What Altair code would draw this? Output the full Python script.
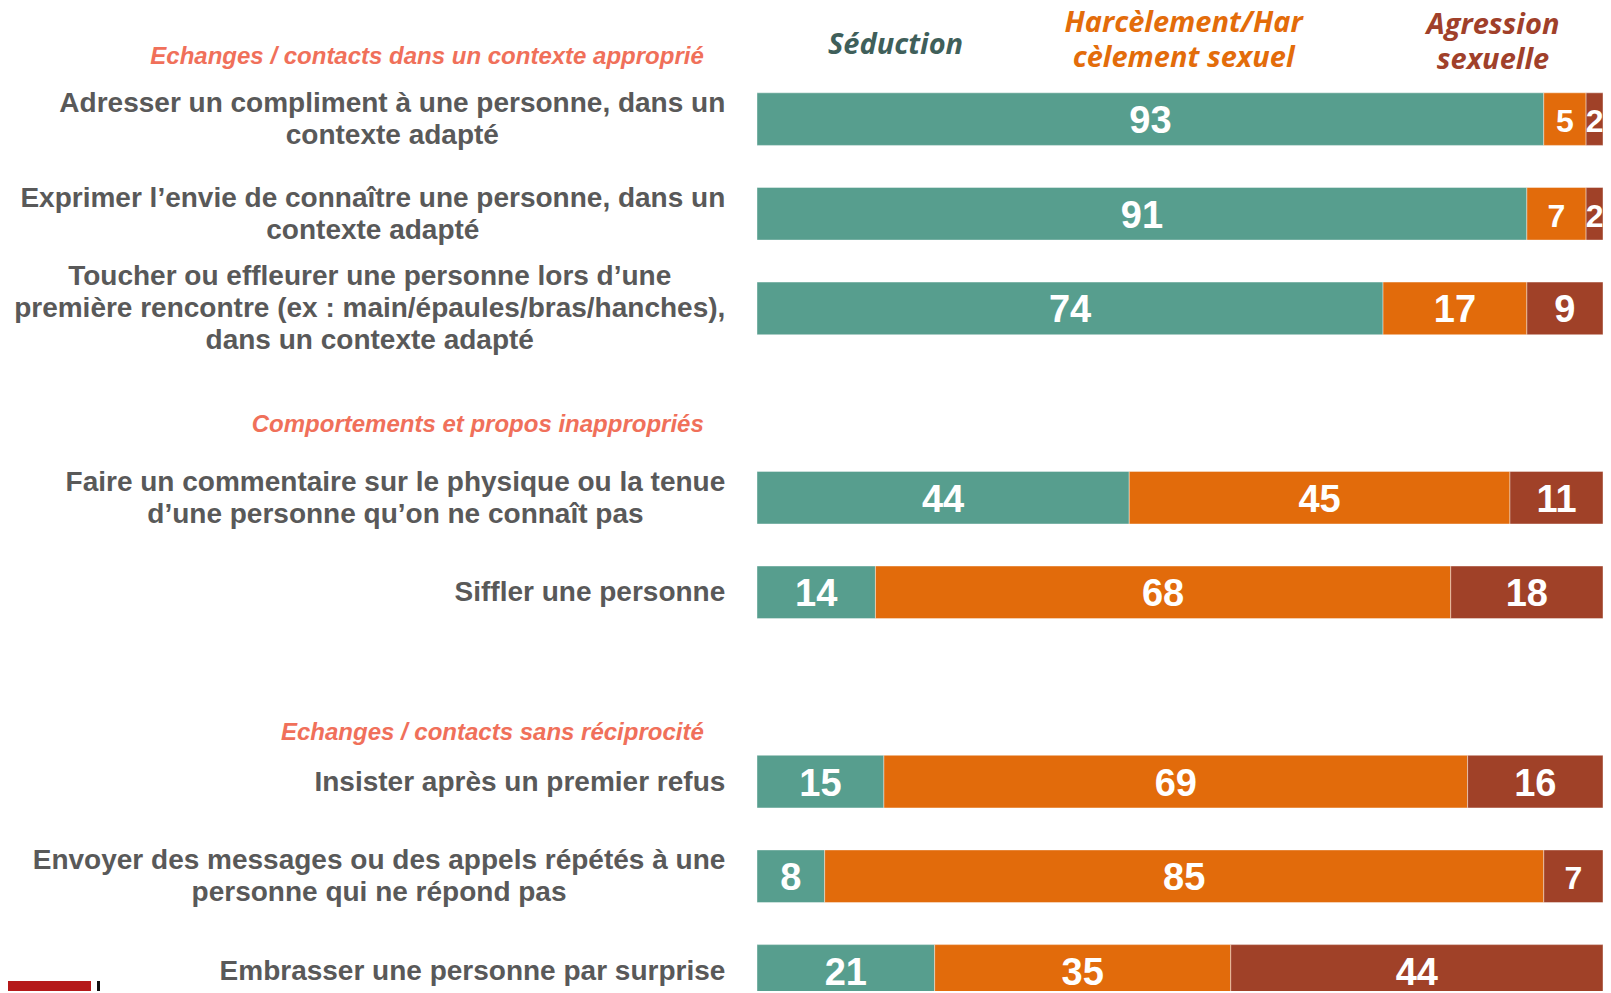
import altair as alt
import pandas as pd

# ---------------- data ----------------
items = [
    "Adresser un compliment à une personne, dans un\ncontexte adapté",
    "Exprimer l’envie de connaître une personne, dans un\ncontexte adapté",
    "Toucher ou effleurer une personne lors d’une\npremière rencontre (ex : main/épaules/bras/hanches),\ndans un contexte adapté",
    "Faire un commentaire sur le physique ou la tenue\nd’une personne qu’on ne connaît pas",
    "Siffler une personne",
    "Insister après un premier refus",
    "Envoyer des messages ou des appels répétés à une\npersonne qui ne répond pas",
    "Embrasser une personne par surprise",
]
groups = [0, 0, 0, 1, 1, 2, 2, 2]
seduction = [93, 91, 74, 44, 14, 15, 8, 21]
harcelement = [5, 7, 17, 45, 68, 69, 85, 35]
agression = [2, 2, 9, 11, 18, 16, 7, 44]
sections = [
    "Echanges / contacts dans un contexte approprié",
    "Comportements et propos inappropriés",
    "Echanges / contacts sans réciprocité",
]
categories = ["Séduction", "Harcèlement/Harcèlement sexuel", "Agression sexuelle"]
column_titles = ["Séduction", "Harcèlement/Har\ncèlement sexuel", "Agression\nsexuelle"]
colors = ["#579e8e", "#e26b0b", "#a04128"]
title_colors = ["#3f5f5a", "#e36c0a", "#a0402a"]

# ---------------- layout ----------------
# target positions are given in picture pixels; SY compensates the vertical
# squeeze of the capture, ORIGIN_* is where the plot origin lands on the page
SY = 0.989
ORIGIN_X, ORIGIN_Y = 8.0, 13.9
W, H = 1595, 983
BAR_LEFT_PAGE, PX_PER_UNIT = 757.0, 8.46
BAR1_CENTER_PAGE, SLOT_PAGE = 118.7, 94.7
BAR_H = 52 / SY
LABEL_RIGHT_PAGE = 725.3
LABEL_FS = 28
LABEL_LH = 32
SECTION_RIGHT_PAGE = 703.8
SECTION_Y_PAGE = [56.5, 425.0, 732.5]
COLTITLE_X_PAGE = [895.5, 1183.6, 1493.0]
COLTITLE_Y_PAGE = [45.0, 40.0, 42.2]
COLTITLE_LH = 35

X0 = BAR_LEFT_PAGE - ORIGIN_X
SLOT_TOP = BAR1_CENTER_PAGE / SY - ORIGIN_Y
SLOT_PX = SLOT_PAGE / SY


def px_to_x(page_px):
    return (page_px - ORIGIN_X - X0) / PX_PER_UNIT


def py_to_slot(page_py):
    return (page_py / SY - ORIGIN_Y - SLOT_TOP) / SLOT_PX


# Arial/Helvetica Bold advance widths (1/1000 em) to centre multi-line labels
_w = {}
_w.update(dict(zip("abcdefghijklmnopqrstuvwxyz",
                   [556, 611, 556, 611, 556, 333, 611, 611, 278, 278, 556, 278, 889,
                    611, 611, 611, 611, 389, 556, 333, 611, 556, 778, 556, 556, 500])))
_w.update(dict(zip("ABCDEFGHIJKLMNOPQRSTUVWXYZ",
                   [722, 722, 722, 722, 667, 611, 778, 722, 278, 556, 722, 611, 833,
                    722, 778, 667, 778, 722, 667, 611, 722, 667, 944, 667, 667, 611])))
_w.update({" ": 278, ",": 278, ".": 278, ":": 333, "(": 333, ")": 333, "/": 278,
           "’": 278, "'": 238, "à": 556, "â": 556, "é": 556, "è": 556, "ê": 556,
           "î": 278, "ï": 278, "ô": 611, "ç": 556})


def text_width(s, fs):
    return sum(_w.get(c, 556) for c in s) * fs / 1000.0


slots = [i + g for i, g in enumerate(groups)]

seg_rows = []
for i, s in enumerate(slots):
    start = 0
    for cat, v in zip(categories, [seduction[i], harcelement[i], agression[i]]):
        seg_rows.append({"slot": s, "cat": cat, "value": v, "start": start,
                         "end": start + v, "mid": start + v / 2})
        start += v
seg = pd.DataFrame(seg_rows)

lab_rows = []
for lab, s in zip(items, slots):
    lines = lab.split("\n")
    maxw = max(text_width(line, LABEL_FS) for line in lines)
    n = len(lines)
    for j, line in enumerate(lines):
        lab_rows.append({"slot": s + (j - (n - 1) / 2) * LABEL_LH / SLOT_PAGE,
                         "label": line, "lx": px_to_x(LABEL_RIGHT_PAGE - maxw / 2)})
labs = pd.DataFrame(lab_rows)

secs = pd.DataFrame({"title": sections,
                     "slot": [py_to_slot(y) for y in SECTION_Y_PAGE],
                     "sx": [px_to_x(SECTION_RIGHT_PAGE)] * len(sections)})

col_rows = []
for t, c, tc, xp, yp in zip(column_titles, categories, title_colors, COLTITLE_X_PAGE, COLTITLE_Y_PAGE):
    lines = t.split("\n")
    n = len(lines)
    for j, line in enumerate(lines):
        col_rows.append({"title": line, "cat": c, "tcolor": tc, "cx": px_to_x(xp),
                         "slot": py_to_slot(yp + (j - (n - 1) / 2) * COLTITLE_LH)})
cols = pd.DataFrame(col_rows)

xs = alt.Scale(domain=[0, 100], range=[X0, X0 + 100 * PX_PER_UNIT], nice=False, zero=False)
ys = alt.Scale(domain=[0, 9], range=[SLOT_TOP, SLOT_TOP + 9 * SLOT_PX], nice=False, zero=False)
cs = alt.Scale(domain=categories, range=colors)

bars = alt.Chart(seg).mark_bar(orient="horizontal", size=BAR_H, clip=True,
                                stroke="#ffffff", strokeWidth=0.8, strokeOpacity=0.5).encode(
    x=alt.X("start:Q", scale=xs, axis=None),
    x2="end:Q",
    y=alt.Y("slot:Q", scale=ys, axis=None),
    color=alt.Color("cat:N", scale=cs, legend=None),
)

nums = alt.Chart(seg).mark_text(font="Liberation Sans", fontWeight="bold", dy=3,
                                color="white", baseline="middle", align="center", clip=True).encode(
    x=alt.X("mid:Q", scale=xs, axis=None),
    y=alt.Y("slot:Q", scale=ys, axis=None),
    text="value:Q",
    size=alt.condition("datum.value <= 7", alt.value(32), alt.value(38)),
)

labels = alt.Chart(labs).mark_text(font="Liberation Sans", fontWeight="bold", fontSize=LABEL_FS,
                                   color="#595959", align="center", baseline="middle", dy=1).encode(
    x=alt.X("lx:Q", scale=xs, axis=None),
    y=alt.Y("slot:Q", scale=ys, axis=None),
    text="label:N",
)

section_text = alt.Chart(secs).mark_text(font="Liberation Sans", fontWeight="bold", fontStyle="italic",
                                         fontSize=24, color="#f0705a", align="right",
                                         baseline="middle").encode(
    x=alt.X("sx:Q", scale=xs, axis=None),
    y=alt.Y("slot:Q", scale=ys, axis=None),
    text="title:N",
)

col_text = alt.Chart(cols).mark_text(font="Open Sans", fontWeight="bold", fontStyle="italic",
                                     fontSize=29, align="center", baseline="middle").encode(
    x=alt.X("cx:Q", scale=xs, axis=None),
    y=alt.Y("slot:Q", scale=ys, axis=None),
    text="title:N",
    color=alt.Color("tcolor:N", scale=None),
)

logo_box = alt.Chart(pd.DataFrame({"k": [0]})).mark_rect(color="#b5191a").encode(
    x=alt.value(0), x2=alt.value(83), y=alt.value(H - 10), y2=alt.value(H))
logo_bar = alt.Chart(pd.DataFrame({"k": [0]})).mark_rect(color="#111111").encode(
    x=alt.value(89), x2=alt.value(92), y=alt.value(H - 10), y2=alt.value(H))

chart = alt.layer(bars, nums, labels, section_text, col_text, logo_box, logo_bar).properties(
    width=W, height=H, padding=0, autosize="none",
).configure_view(stroke=None)

chart.save("out.html", embed_options={"renderer": "svg", "actions": False})
